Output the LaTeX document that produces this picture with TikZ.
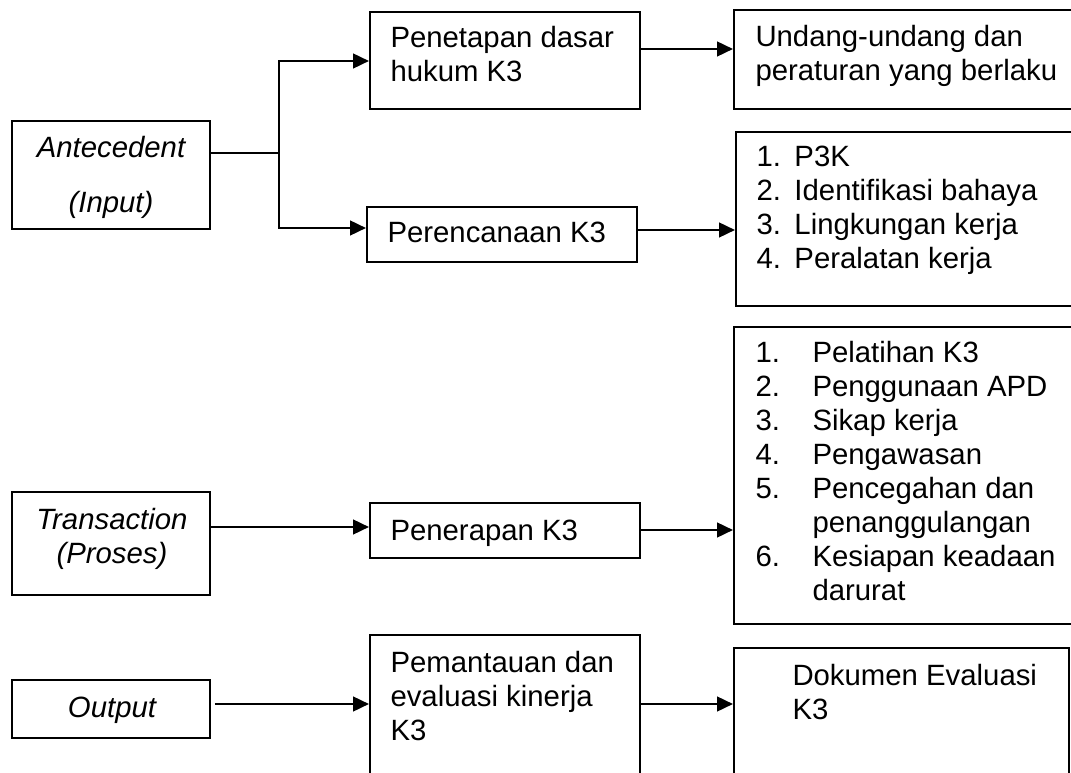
\documentclass[tikz,border=0pt]{standalone}
\usepackage{fontspec}
\setmainfont{Liberation Sans}
\usetikzlibrary{arrows.meta}

\tikzset{every picture/.style={line width=0.75pt}}
\tikzset{
  box/.style={draw, line width=1.4pt, anchor=north west, inner sep=0pt},
  txt/.style={inner sep=0pt, font=\fontsize{22}{25.5}\selectfont},
  itxt/.style={inner sep=0pt, font=\fontsize{22}{25.5}\selectfont\itshape, align=center},
  ln/.style={line width=1.9pt},
  arr/.style={line width=1.9pt, -{Triangle[length=12pt,width=11pt]}}
}

\begin{document}
\begin{tikzpicture}[x=0.75pt,y=0.75pt,yscale=-1,xscale=1]
\useasboundingbox (0,0) rectangle (1071,773);
\clip (0,0) rectangle (1071,773);

%Boxes: left column
\node[box, minimum width=148.5pt, minimum height=81pt] (ante) at (11,120) {};
\node[box, minimum width=148.5pt, minimum height=77.25pt] (trans) at (11,491) {};
\node[box, minimum width=148.5pt, minimum height=43.5pt] (outp) at (11,679) {};
%Boxes: middle column
\node[box, minimum width=202.5pt, minimum height=72.75pt] (penetapan) at (369,11) {};
\node[box, minimum width=202.5pt, minimum height=41.25pt] (perencanaan) at (366,206) {};
\node[box, minimum width=202.5pt, minimum height=41.25pt] (penerapan) at (369,502) {};
\node[box, minimum width=202.5pt, minimum height=120pt] (pemantauan) at (369,634) {};
%Boxes: right column
\node[box, minimum width=270pt, minimum height=74.25pt] (undang) at (733,9) {};
\node[box, minimum width=270pt, minimum height=130.5pt] (listplan) at (735,131) {};
\node[box, minimum width=270pt, minimum height=222.75pt] (listapply) at (733,326) {};
\node[box, minimum width=251.25pt, minimum height=120pt] (dokumen) at (733,647) {};

% Text Node
\node[itxt, anchor=base] (tAnte) at (111,213) {Antecedent\\[15.75pt](Input)};
% Text Node
\node[itxt, anchor=base] (tTrans) at (112,563) {Transaction\\(Proses)};
% Text Node
\node[itxt, anchor=base] (tOutp) at (112,717) {Output};
% Text Node
\node[txt, align=left, anchor=base west] (tPenetapan) at (390,82) {Penetapan dasar\\hukum K3};
% Text Node
\node[txt, anchor=base west] (tPerencanaan) at (387,243) {Perencanaan K3};
% Text Node
\node[txt, anchor=base west] (tPenerapan) at (390,540) {Penerapan K3};
% Text Node
\node[txt, align=left, anchor=base west] (tPemantauan) at (390,740) {Pemantauan dan\\evaluasi kinerja\\K3};
% Text Node
\node[txt, align=left, anchor=base west] (tUndang) at (755,81) {Undang-undang dan\\peraturan yang berlaku};
% Text Node
\node[txt, anchor=base west] (tListplan) at (756,167) {\begin{tabular}[t]{@{}p{28.5pt}@{}l@{}}
1. & P3K\\ 2. & Identifikasi bahaya\\ 3. & Lingkungan kerja\\ 4. & Peralatan kerja
\end{tabular}};
% Text Node
\node[txt, anchor=base west] (tListapply) at (755,363) {\begin{tabular}[t]{@{}p{42.75pt}@{}l@{}}
1. & Pelatihan K3\\ 2. & Penggunaan APD\\ 3. & Sikap kerja\\ 4. & Pengawasan\\
5. & Pencegahan dan\\ & penanggulangan\\ 6. & Kesiapan keadaan\\ & darurat
\end{tabular}};
% Text Node
\node[txt, align=left, anchor=base west] (tDokumen) at (792,719) {Dokumen Evaluasi\\K3};

%Connectors
\coordinate (split) at (279,153);
\draw[ln] (ante.east |- split) -- (split);
\draw[arr] (split) |- (penetapan.west |- 0,61);
\draw[arr] (split) |- (perencanaan.west |- 0,228);
\draw[arr] (penetapan.east |- 0,49) -- (undang.west |- 0,49);
\draw[arr] (perencanaan.east |- 0,230) -- (listplan.west |- 0,230);
\draw[arr] (trans.east |- 0,527) -- (penerapan.west |- 0,527);
\draw[arr] (penerapan.east |- 0,530) -- (listapply.west |- 0,530);
\draw[arr, shorten <=3pt] (outp.east |- 0,704) -- (pemantauan.west |- 0,704);
\draw[arr] (pemantauan.east |- 0,704) -- (dokumen.west |- 0,704);

\end{tikzpicture}
\end{document}
